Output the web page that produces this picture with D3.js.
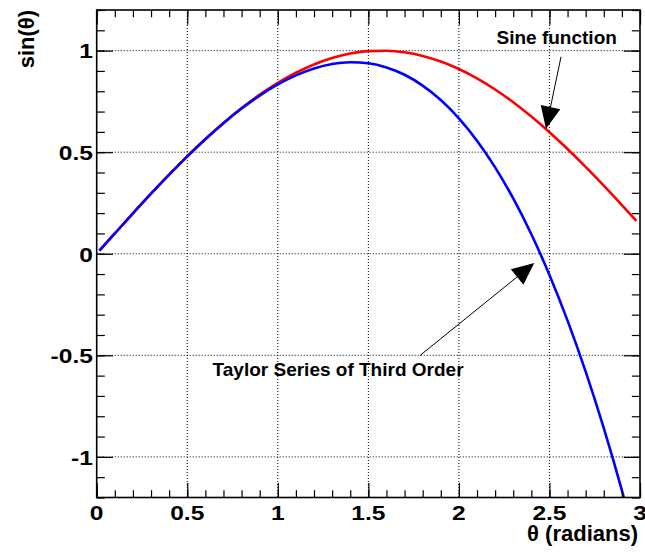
<!DOCTYPE html>
<html>
<head>
<meta charset="utf-8">
<script src="https://cdnjs.cloudflare.com/ajax/libs/d3/7.8.5/d3.min.js"></script>
<style>
body { margin: 0; background: #fff; }
svg text { font-family: "Liberation Sans", Arial, Helvetica, sans-serif; font-weight: bold; fill: #000; }
</style>
</head>
<body>
<svg id="chart" width="645" height="553"></svg>
<script>
// values
var theta = [0.015, 0.1, 0.2, 0.3, 0.4, 0.5, 0.6, 0.7, 0.8, 0.9, 1.0, 1.1, 1.2, 1.3, 1.4, 1.5,
             1.6, 1.7, 1.8, 1.9, 2.0, 2.1, 2.2, 2.3, 2.4, 2.5, 2.6, 2.7, 2.8, 2.9, 2.98];
var sineVals = [0.015, 0.0998, 0.1987, 0.2955, 0.3894, 0.4794, 0.5646, 0.6442, 0.7174, 0.7833, 0.8415,
                0.8912, 0.9320, 0.9636, 0.9854, 0.9975, 0.9996, 0.9917, 0.9738, 0.9463, 0.9093,
                0.8632, 0.8085, 0.7457, 0.6755, 0.5985, 0.5155, 0.4274, 0.3350, 0.2392, 0.1613];
var taylorVals = [0.015, 0.0998, 0.1987, 0.2955, 0.3893, 0.4792, 0.5640, 0.6428, 0.7147, 0.7785, 0.8333,
                  0.8782, 0.9120, 0.9338, 0.9427, 0.9375, 0.9173, 0.8812, 0.8280, 0.7568, 0.6667,
                  0.5565, 0.4253, 0.2722, 0.0960, -0.1042, -0.3293, -0.5805, -0.8587, -1.1648, -1.4310];

var xTicks = [0, 0.5, 1, 1.5, 2, 2.5, 3];
var xTickLabels = ["0", "0.5", "1", "1.5", "2", "2.5", "3"];
var yTicks = [-1, -0.5, 0, 0.5, 1];
var yTickLabels = ["-1", "-0.5", "0", "0.5", "1"];

var noteLabels = ["Sine function", "Taylor Series of Third Order"];
var noteTextPos = [[2.54, 1.033], [0.64, -0.604]];
var noteArrowFrom = [[2.564, 0.970], [1.785, -0.501]];
var noteArrowTo = [[2.481, 0.616], [2.416, -0.046]];

var svg = d3.select("#chart"),
    padL = 96.7, padR = 640, padT = 10, padB = 497.5,
    width = padR - padL,
    height = padB - padT;

var x = d3.scaleLinear().domain([0, 3]).range([padL, padR]);
var y = d3.scaleLinear().domain([-1.2, 1.2]).range([padB, padT]);

svg.append("rect").attr("width", 645).attr("height", 553).attr("fill", "#fff");

svg.append("clipPath").attr("id", "frame")
    .append("rect").attr("x", padL).attr("y", padT).attr("width", width).attr("height", height);

// dotted grid
var grid = svg.append("g").attr("stroke", "#000").attr("stroke-width", 1).attr("stroke-dasharray", "1,2");
grid.selectAll(".vg")
    .data(xTicks.filter(function(d) { return d > 0 && d < 3; }))
    .enter().append("line")
    .attr("x1", function(d) { return x(d); })
    .attr("x2", function(d) { return x(d); })
    .attr("y1", padT).attr("y2", padB);
grid.selectAll(".hg")
    .data(yTicks)
    .enter().append("line")
    .attr("y1", function(d) { return y(d); })
    .attr("y2", function(d) { return y(d); })
    .attr("x1", padL).attr("x2", padR);

// curves
var line = d3.line()
    .x(function(d) { return x(d[0]); })
    .y(function(d) { return y(d[1]); })
    .curve(d3.curveMonotoneX);

var curves = svg.append("g").attr("clip-path", "url(#frame)");
curves.append("path")
    .datum(d3.zip(theta, sineVals))
    .attr("d", line)
    .attr("fill", "none").attr("stroke", "#ff0000").attr("stroke-width", 2.6);
curves.append("path")
    .datum(d3.zip(theta, taylorVals))
    .attr("d", line)
    .attr("fill", "none").attr("stroke", "#0000ff").attr("stroke-width", 2.6);

// axes: ticks on all four sides, ROOT style
var xMinor = d3.range(0, 31).map(function(i) { return i / 10; });
var yMinor = d3.range(-12, 13).map(function(i) { return i / 10; });
var xTickLen = height * 0.03, yTickLen = width * 0.03;

svg.append("g").attr("transform", "translate(0," + padB + ")")
    .call(d3.axisTop(x).tickValues(xMinor).tickSize(xTickLen / 2).tickFormat(""));
svg.append("g").attr("transform", "translate(0," + padB + ")")
    .call(d3.axisTop(x).tickValues(xTicks).tickSize(xTickLen).tickFormat(""));
svg.append("g").attr("transform", "translate(0," + padT + ")")
    .call(d3.axisBottom(x).tickValues(xMinor).tickSize(xTickLen / 2).tickFormat(""));
svg.append("g").attr("transform", "translate(0," + padT + ")")
    .call(d3.axisBottom(x).tickValues(xTicks).tickSize(xTickLen).tickFormat(""));
svg.append("g").attr("transform", "translate(" + padL + ",0)")
    .call(d3.axisRight(y).tickValues(yMinor).tickSize(yTickLen / 2).tickFormat(""));
svg.append("g").attr("transform", "translate(" + padL + ",0)")
    .call(d3.axisRight(y).tickValues(yTicks).tickSize(yTickLen).tickFormat(""));
svg.append("g").attr("transform", "translate(" + padR + ",0)")
    .call(d3.axisLeft(y).tickValues(yMinor).tickSize(yTickLen / 2).tickFormat(""));
svg.append("g").attr("transform", "translate(" + padR + ",0)")
    .call(d3.axisLeft(y).tickValues(yTicks).tickSize(yTickLen).tickFormat(""));

svg.selectAll(".domain").remove();
svg.selectAll(".tick line").attr("stroke", "#000").attr("stroke-width", 1.2);

svg.append("rect")
    .attr("x", padL).attr("y", padT).attr("width", width).attr("height", height)
    .attr("fill", "none").attr("stroke", "#000").attr("stroke-width", 1.6);

// tick labels (ROOT's Helvetica bold is a bit wider than Liberation)
svg.selectAll(".xl")
    .data(xTicks)
    .enter().append("text")
    .attr("transform", function(d) { return "translate(" + x(d) + ",520) scale(1.17,1)"; })
    .attr("text-anchor", "middle")
    .attr("font-size", "21px")
    .text(function(d, i) { return xTickLabels[i]; });

svg.selectAll(".yl")
    .data(yTicks)
    .enter().append("text")
    .attr("transform", function(d) { return "translate(" + (padL - 3.8) + "," + (y(d) + 7.8) + ") scale(1.17,1)"; })
    .attr("text-anchor", "end")
    .attr("font-size", "21px")
    .text(function(d, i) { return yTickLabels[i]; });

// axis titles
svg.append("text")
    .attr("x", 638).attr("y", 541)
    .attr("text-anchor", "end")
    .attr("font-size", "22px")
    .text("θ (radians)");

svg.append("text")
    .attr("transform", "translate(33.5," + padT + ") rotate(-90)")
    .attr("text-anchor", "end")
    .attr("font-size", "22px")
    .text("sin(θ)");

// annotations with arrows
noteLabels.forEach(function(label, i) {
    svg.append("text")
        .attr("x", x(noteTextPos[i][0]))
        .attr("y", y(noteTextPos[i][1]))
        .attr("text-anchor", i == 0 ? "middle" : "start")
        .attr("font-size", "19px")
        .text(label);

    var x0 = x(noteArrowFrom[i][0]), y0 = y(noteArrowFrom[i][1]),
        x1 = x(noteArrowTo[i][0]), y1 = y(noteArrowTo[i][1]);
    var len = Math.sqrt((x1 - x0) * (x1 - x0) + (y1 - y0) * (y1 - y0));
    var ux = (x1 - x0) / len, uy = (y1 - y0) / len;
    var head = 22, half = 10;
    var bx = x1 - head * ux, by = y1 - head * uy;

    svg.append("line")
        .attr("x1", x0).attr("y1", y0).attr("x2", bx).attr("y2", by)
        .attr("stroke", "#000").attr("stroke-width", 1);
    svg.append("path")
        .attr("d", "M" + x1 + "," + y1 +
                   "L" + (bx - half * uy) + "," + (by + half * ux) +
                   "L" + (bx + half * uy) + "," + (by - half * ux) + "Z")
        .attr("fill", "#000");
});
</script>
</body>
</html>
